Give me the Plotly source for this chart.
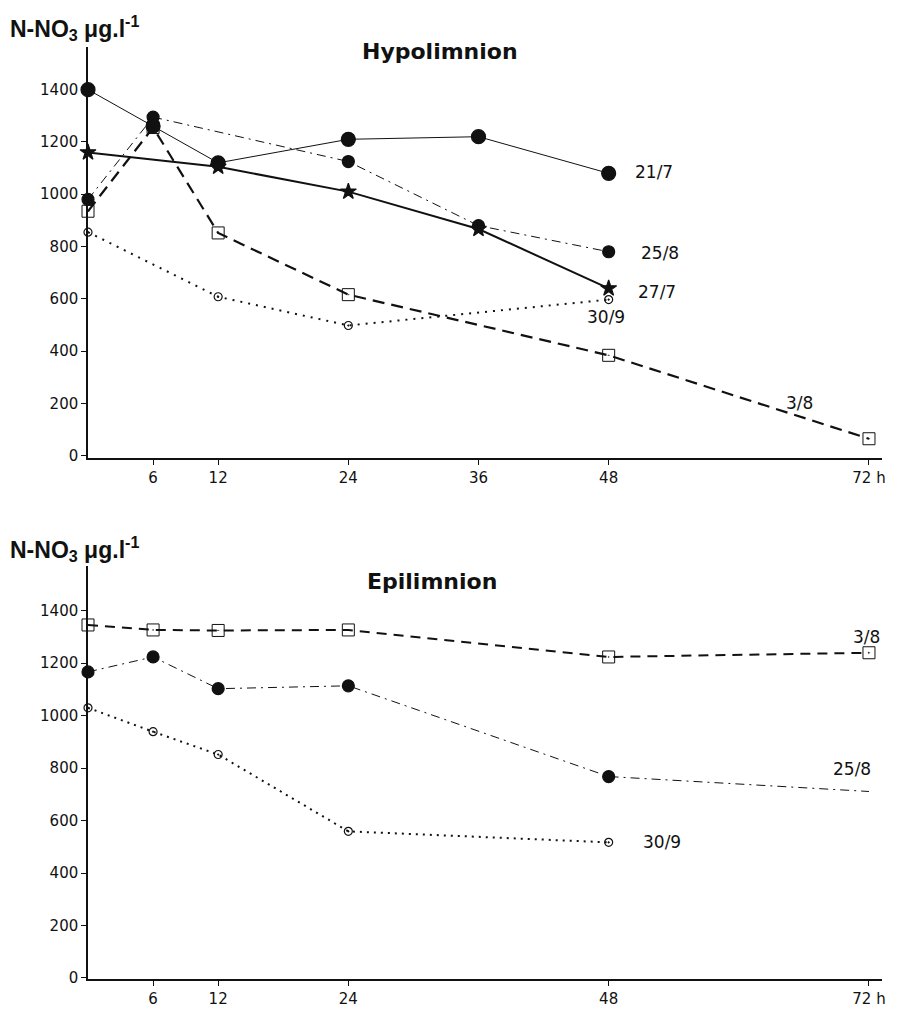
import plotly.graph_objects as go
from plotly.subplots import make_subplots

# ---------------- data ----------------
# Hypolimnion
hypo_t_2107 = [0, 6, 12, 24, 36, 48]
hypo_v_2107 = [1400, 1260, 1120, 1210, 1220, 1080]

hypo_t_2508 = [0, 6, 24, 36, 48]
hypo_v_2508 = [980, 1295, 1125, 880, 780]

hypo_t_2707 = [0, 12, 24, 36, 48]
hypo_v_2707 = [1160, 1105, 1010, 867, 640]

hypo_t_0308 = [0, 6, 12, 24, 48, 72]
hypo_v_0308 = [935, 1255, 852, 616, 384, 65]

hypo_t_3009 = [0, 12, 24, 48]
hypo_v_3009 = [855, 608, 498, 597]

# Epilimnion
epi_t_0308 = [0, 6, 12, 24, 48, 72]
epi_v_0308 = [1346, 1327, 1325, 1327, 1224, 1240]

epi_t_2508 = [0, 6, 12, 24, 48, 72]
epi_v_2508 = [1167, 1224, 1103, 1114, 768, 711]
epi_m_2508 = [True, True, True, True, True, False]  # measured point drawn with a marker

epi_t_3009 = [0, 6, 12, 24, 48]
epi_v_3009 = [1030, 939, 852, 559, 517]

x_ticks_top = [6, 12, 24, 36, 48, 72]
x_text_top = ["6", "12", "24", "36", "48", "72 h"]
x_ticks_bot = [6, 12, 24, 48, 72]
x_text_bot = ["6", "12", "24", "48", "72 h"]
y_ticks = [0, 200, 400, 600, 800, 1000, 1200, 1400]
y_text = ["0", "200", "400", "600", "800", "1000", "1200", "1400"]

# ---------------- figure ----------------
fig = make_subplots(rows=2, cols=1, vertical_spacing=0.0)
BLK = "#111111"


def add(t, v, row, dash, width, symbol, size, mlw=1.2, mode="lines+markers"):
    fig.add_trace(go.Scatter(
        x=t, y=v, mode=mode, cliponaxis=False, opacity=1,
        line=dict(color=BLK, width=width, dash=dash),
        marker=dict(symbol=symbol, size=size, color=BLK, opacity=1,
                    line=dict(color=BLK, width=mlw)),
        showlegend=False), row=row, col=1)


# top
add(hypo_t_3009, hypo_v_3009, 1, "2px,6px", 2, "circle-open-dot", 8)
add(hypo_t_0308, hypo_v_0308, 1, "12px,7px", 2.2, "square-open-dot", 12, 1.0)
add(hypo_t_2508, hypo_v_2508, 1, "9px,5px,2px,5px", 1, "circle", 12)
add(hypo_t_2107, hypo_v_2107, 1, "solid", 1, "circle", 14)
add(hypo_t_2707, hypo_v_2707, 1, "solid", 2, "star", 12)

# bottom
add(epi_t_3009, epi_v_3009, 2, "2px,5px", 2, "circle-open-dot", 8)
add(epi_t_0308, epi_v_0308, 2, "10px,7px", 2, "square-open-dot", 12, 1.0)
add(epi_t_2508, epi_v_2508, 2, "9px,5px,2px,5px", 1, "circle", 12, mode="lines")
add([t for t, m in zip(epi_t_2508, epi_m_2508) if m],
    [v for v, m in zip(epi_v_2508, epi_m_2508) if m],
    2, "solid", 1, "circle", 12, mode="markers")

tick_font = dict(family="DejaVu Sans", size=15, color=BLK)
axis_common = dict(showline=True, linecolor=BLK, linewidth=1.5, showgrid=False,
                   zeroline=False, ticks="outside", tickcolor=BLK, ticklen=5,
                   tickfont=tick_font)

fig.update_xaxes(range=[0, 73.2], tickvals=x_ticks_top, ticktext=x_text_top,
                 **axis_common, row=1, col=1)
fig.update_xaxes(range=[0, 73.2], tickvals=x_ticks_bot, ticktext=x_text_bot,
                 **axis_common, row=2, col=1)
fig.update_yaxes(range=[-8, 1563], tickvals=y_ticks, ticktext=y_text,
                 **axis_common, row=1, col=1)
fig.update_yaxes(range=[-4, 1570], tickvals=y_ticks, ticktext=y_text,
                 **axis_common, row=2, col=1)

fig.update_layout(
    width=904, height=1020,
    margin=dict(l=88, r=22, t=47, b=36),
    paper_bgcolor="white", plot_bgcolor="white",
    yaxis=dict(domain=[0.5592, 1.0]),
    yaxis2=dict(domain=[0.0, 0.4429]),
)

lab_font = dict(family="DejaVu Sans", size=17, color=BLK)
labels = [
    ("x", "y", 50.2, 1084, "21/7"),
    ("x", "y", 50.8, 776, "25/8"),
    ("x", "y", 50.5, 627, "27/7"),
    ("x", "y", 45.8, 532, "30/9"),
    ("x", "y", 64.2, 200, "3/8"),
    ("x2", "y2", 70.3, 1300, "3/8"),
    ("x2", "y2", 68.5, 798, "25/8"),
    ("x2", "y2", 51.0, 517, "30/9"),
]
for xr, yr, xv, yv, txt in labels:
    fig.add_annotation(x=xv, y=yv, xref=xr, yref=yr, text=txt, showarrow=False,
                       xanchor="left", yanchor="middle", font=lab_font)

title_font = dict(family="DejaVu Sans", size=22, color=BLK)
fig.add_annotation(x=(440 - 88) / 794, y=(984 - 52) / 937, xref="paper", yref="paper",
                   text="<b>Hypolimnion</b>", showarrow=False,
                   xanchor="center", yanchor="middle", font=title_font)
fig.add_annotation(x=(432 - 88) / 794, y=(984 - 584) / 937, xref="paper", yref="paper",
                   text="<b>Epilimnion</b>", showarrow=False,
                   xanchor="center", yanchor="middle", font=title_font)

ytitle_font = dict(family="Liberation Sans", size=23, color=BLK)
for yp in [(984 - 28) / 937, (984 - 552) / 937]:
    fig.add_annotation(x=(8 - 88) / 794, y=yp, xref="paper", yref="paper",
                       text="<b>N-NO<sub>3</sub> μg.l<sup>-1</sup></b>", showarrow=False,
                       xanchor="left", yanchor="middle", font=ytitle_font)

fig.write_html("out.html")
